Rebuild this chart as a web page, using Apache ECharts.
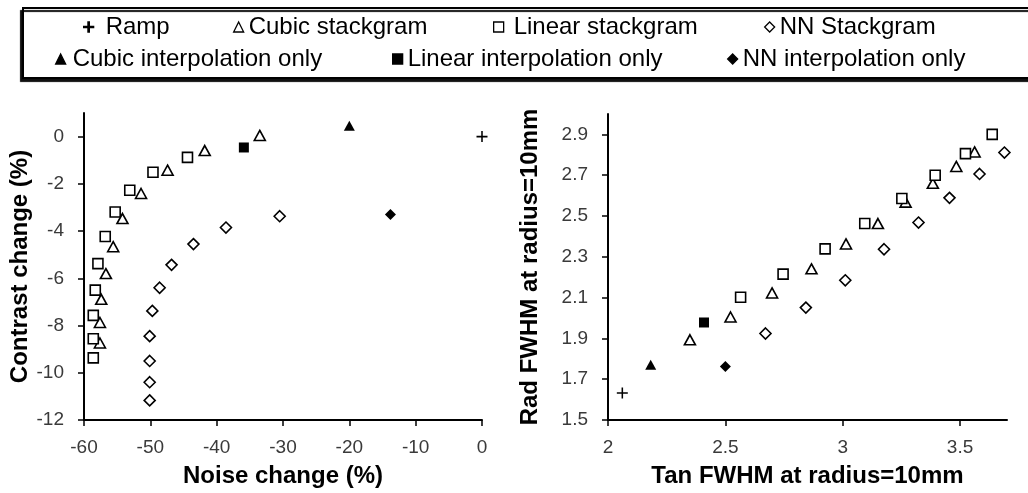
<!DOCTYPE html>
<html>
<head>
<meta charset="utf-8">
<script src="https://cdn.jsdelivr.net/npm/echarts@6/dist/echarts.min.js"></script>
<style>
  html, body { margin: 0; padding: 0; background: #fff; }
  #chart { width: 1028px; height: 493px; }
</style>
</head>
<body>
<div id="chart"></div>
<script>
// series names
const names = [
  'Ramp', 'Cubic stackgram', 'Linear stackgram', 'NN Stackgram',
  'Cubic interpolation only', 'Linear interpolation only', 'NN interpolation only',
];

// left panel: [noise change %, contrast change %]
const leftRamp = [[0, 0]];
const leftCubicStack = [[-33.5, 0.05], [-41.8, -0.59], [-47.4, -1.42], [-51.4, -2.41], [-54.2, -3.47],
  [-55.6, -4.66], [-56.7, -5.8], [-57.4, -6.89], [-57.6, -7.87], [-57.6, -8.74]];
const leftLinearStack = [[-44.4, -0.88], [-49.6, -1.51], [-53.1, -2.27], [-55.3, -3.19], [-56.8, -4.23],
  [-57.9, -5.38], [-58.3, -6.5], [-58.6, -7.57], [-58.6, -8.56], [-58.6, -9.37]];
const leftNNStack = [[-30.5, -3.37], [-38.6, -3.85], [-43.5, -4.55], [-46.8, -5.43], [-48.6, -6.4],
  [-49.7, -7.38], [-50.1, -8.45], [-50.1, -9.5], [-50.1, -10.4], [-50.1, -11.17]];
const leftCubicOnly = [[-20, 0.46]];
const leftLinearOnly = [[-35.9, -0.46]];
const leftNNOnly = [[-13.8, -3.3]];

// right panel: [tan FWHM, rad FWHM]
const rightRamp = [[2.061, 1.632]];
const rightCubicStack = [[2.349, 1.893], [2.522, 2.005], [2.699, 2.123], [2.867, 2.241], [3.014, 2.363],
  [3.15, 2.463], [3.268, 2.568], [3.384, 2.66], [3.484, 2.743], [3.562, 2.814]];
const rightLinearStack = [[2.565, 2.102], [2.746, 2.215], [2.925, 2.339], [3.094, 2.463], [3.252, 2.586],
  [3.394, 2.70], [3.523, 2.806], [3.637, 2.90]];
const rightNNStack = [[2.671, 1.924], [2.843, 2.051], [3.011, 2.185], [3.176, 2.337], [3.323, 2.468],
  [3.455, 2.589], [3.583, 2.706], [3.689, 2.811]];
const rightCubicOnly = [[2.182, 1.771]];
const rightLinearOnly = [[2.409, 1.978]];
const rightNNOnly = [[2.50, 1.762]];

// tick labels
const leftXTicks = [-60, -50, -40, -30, -20, -10, 0];
const leftYTicks = [-12, -10, -8, -6, -4, -2, 0];
const rightXTicks = [2, 2.5, 3, 3.5];
const rightYTicks = [1.5, 1.7, 1.9, 2.1, 2.3, 2.5, 2.7, 2.9];

const plusPath = 'path://M4.3,0H5.7V4.3H10V5.7H5.7V10H4.3V5.7H0V4.3H4.3Z';
const markers = [
  { symbol: plusPath, size: 11, fill: '#000', border: 0 },
  { symbol: 'triangle', size: [11, 10], fill: '#fff', border: 1.6 },
  { symbol: 'rect', size: 10, fill: '#fff', border: 1.6 },
  { symbol: 'diamond', size: 11, fill: '#fff', border: 1.6 },
  { symbol: 'triangle', size: [11, 10], fill: '#000', border: 0 },
  { symbol: 'rect', size: 10, fill: '#000', border: 0 },
  { symbol: 'diamond', size: 11, fill: '#000', border: 0 },
];
const leftData = [leftRamp, leftCubicStack, leftLinearStack, leftNNStack, leftCubicOnly, leftLinearOnly, leftNNOnly];
const rightData = [rightRamp, rightCubicStack, rightLinearStack, rightNNStack, rightCubicOnly, rightLinearOnly, rightNNOnly];

const font = '"Liberation Sans", Arial, sans-serif';

function makeAxis(opts) {
  return {
    type: 'value',
    gridIndex: opts.grid,
    min: opts.min,
    max: opts.max,
    name: opts.name,
    nameLocation: 'middle',
    nameGap: opts.nameGap,
    nameTextStyle: { fontFamily: font, fontSize: 24, fontWeight: 'bold', color: '#000' },
    axisLine: { show: true, onZero: false, lineStyle: { color: '#000', width: 2 } },
    axisTick: { show: true, length: 6, lineStyle: { color: '#000', width: 1.5 }, customValues: opts.ticks },
    axisLabel: {
      margin: opts.labelMargin,
      fontFamily: font,
      fontSize: 19,
      color: '#3a3a3a',
      customValues: opts.ticks,
      formatter: opts.fmt || ((v) => String(v)),
    },
    splitLine: { show: false },
  };
}

const series = [];
names.forEach((name, i) => {
  const m = markers[i];
  [leftData[i], rightData[i]].forEach((data, k) => {
    series.push({
      name,
      type: 'scatter',
      xAxisIndex: k,
      yAxisIndex: k,
      data,
      symbol: m.symbol,
      symbolSize: m.size,
      itemStyle: { color: m.fill, borderColor: '#000', borderWidth: m.border, opacity: 1 },
      emphasis: { disabled: true },
    });
  });
});

// legend items: [name index, icon left, row top, text padding-left]
const legendPos = [
  [0, 83, 13, 7], [1, 233, 13, 0], [2, 493, 13, 5], [3, 764, 13, 0],
  [4, 55, 45, 2], [5, 392, 45, 0], [6, 727, 45, 0],
];
const legends = legendPos.map(([idx, left, top, pad]) => ({
  data: [names[idx]],
  left,
  top,
  padding: 0,
  itemWidth: 10,
  itemHeight: 10,
  itemGap: 0,
  selectedMode: false,
  itemStyle: { borderWidth: 1.3 },
  textStyle: { fontFamily: font, fontSize: 24, color: '#000', lineHeight: 28, padding: [0, 0, 0, pad] },
}));

const chart = echarts.init(document.getElementById('chart'), null, { renderer: 'canvas' });
chart.setOption({
  backgroundColor: '#fff',
  animation: false,
  graphic: [{
    type: 'rect',
    z: -10,
    shape: { x: 23, y: 8, width: 1020, height: 70 },
    style: {
      fill: '#fff', stroke: '#000', lineWidth: 2,
      shadowColor: '#111', shadowOffsetX: -2, shadowOffsetY: 3, shadowBlur: 1,
    },
  }],
  legend: legends,
  grid: [
    { left: 84, top: 113, width: 398, height: 311 },
    { left: 608, top: 114, width: 399, height: 310 },
  ],
  xAxis: [
    makeAxis({ grid: 0, min: -60, max: 0, ticks: leftXTicks, name: 'Noise change (%)', nameGap: 44, labelMargin: 18 }),
    makeAxis({ grid: 1, min: 2, max: 3.7, ticks: rightXTicks, name: 'Tan FWHM at radius=10mm', nameGap: 44, labelMargin: 18 }),
  ],
  yAxis: [
    makeAxis({ grid: 0, min: -12, max: 1, ticks: leftYTicks, name: 'Contrast change (%)', nameGap: 52, labelMargin: 20 }),
    makeAxis({ grid: 1, min: 1.5, max: 3.0, ticks: rightYTicks, name: 'Rad FWHM at radius=10mm', nameGap: 66, labelMargin: 20, fmt: (v) => v.toFixed(1) }),
  ],
  series,
});
</script>
</body>
</html>
